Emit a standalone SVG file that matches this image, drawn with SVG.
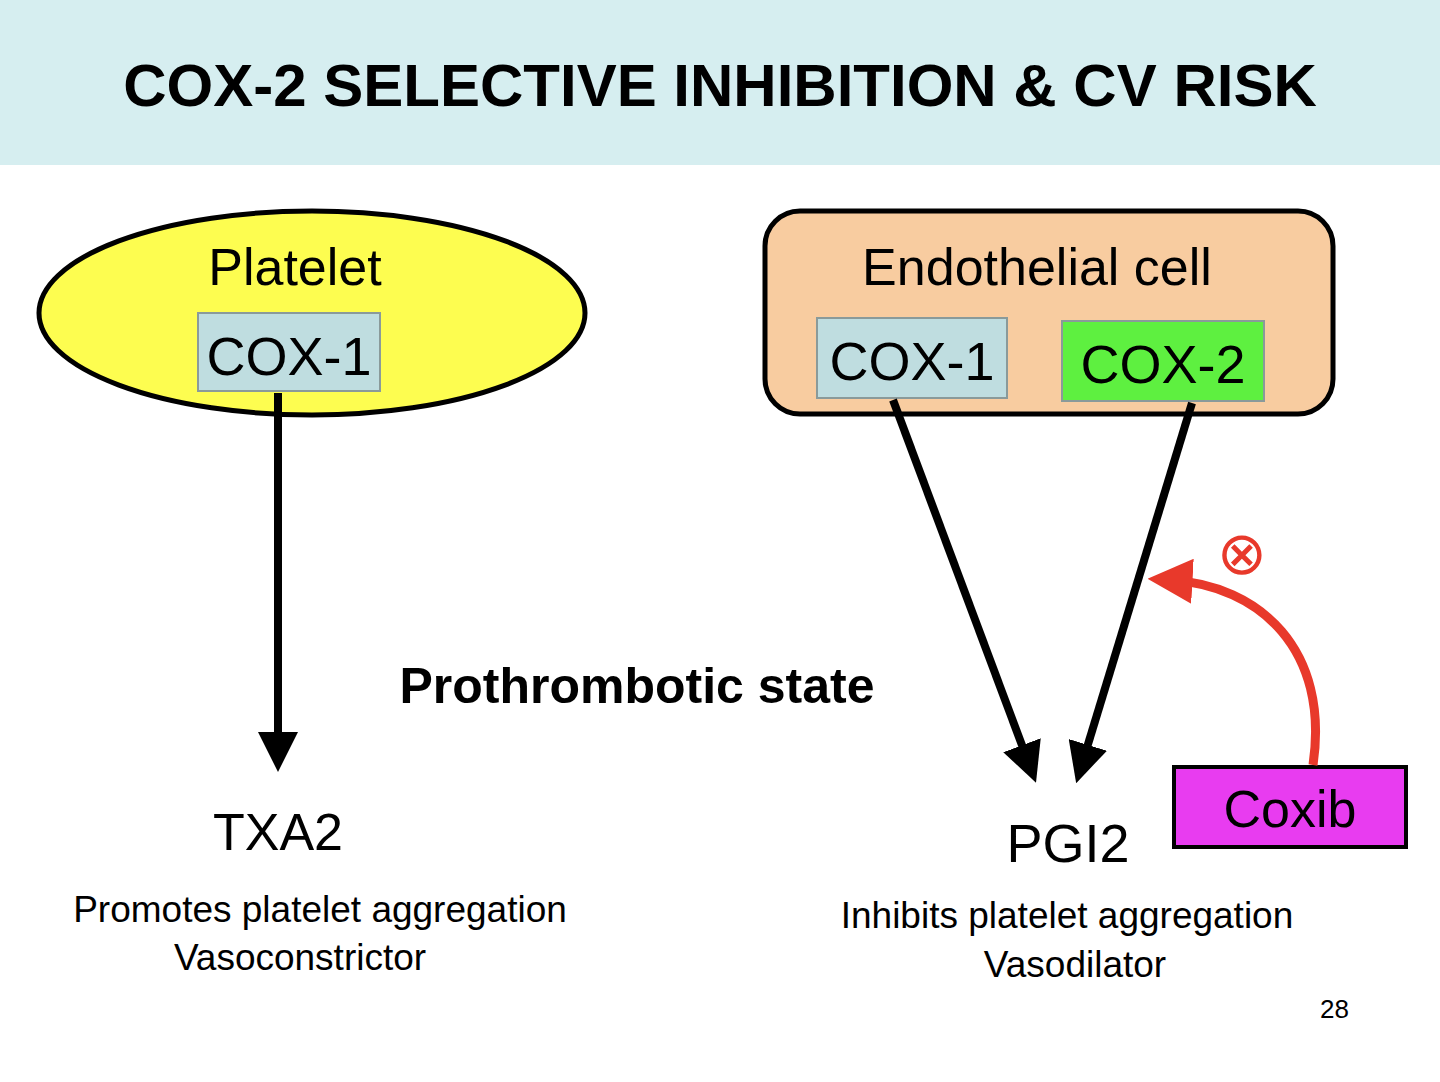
<svg xmlns="http://www.w3.org/2000/svg" width="1440" height="1082" viewBox="0 0 1440 1082">
<style>
text{font-family:"Liberation Sans",Arial,sans-serif;fill:#000}
.c{text-anchor:middle}
.box{stroke:#8a9a9a;stroke-width:2}
.arr{stroke:#000;stroke-width:8;fill:none}
</style>
<defs>
<marker id="ah" markerWidth="5" markerHeight="5" refX="2.5" refY="2.5" orient="auto" markerUnits="strokeWidth"><path d="M0,0L5,2.5L0,5z" fill="#000"/></marker>
<marker id="rh" markerWidth="5" markerHeight="5" refX="2.5" refY="2.5" orient="auto" markerUnits="strokeWidth"><path d="M0,0L5,2.5L0,5z" fill="#e8392b"/></marker>
</defs>
<rect width="1440" height="1082" fill="#fff"/>
<rect width="1440" height="165" fill="#d6eef0"/>
<text class="c" x="720" y="106" font-size="60" font-weight="bold">COX-2 SELECTIVE INHIBITION &amp; CV RISK</text>
<g id="platelet">
<ellipse cx="312" cy="313" rx="273" ry="102" fill="#fdfd50" stroke="#000" stroke-width="5"/>
<text class="c" x="295" y="285" font-size="52">Platelet</text>
<rect class="box" x="198" y="313" width="182" height="78" fill="#bfdde0"/>
<text class="c" x="289" y="375" font-size="54">COX-1</text>
</g>
<g id="endothelial">
<rect x="765" y="211" width="568" height="203" rx="35" fill="#f8cca0" stroke="#000" stroke-width="5"/>
<text class="c" x="1037" y="285" font-size="52">Endothelial cell</text>
<rect class="box" x="817" y="318" width="190" height="80" fill="#bfdde0"/>
<text class="c" x="912" y="380" font-size="54">COX-1</text>
<rect class="box" x="1062" y="321" width="202" height="80" fill="#5ef040"/>
<text class="c" x="1163" y="383" font-size="54">COX-2</text>
</g>
<g id="txa2">
<text class="c" x="278" y="850" font-size="52">TXA2</text>
<text class="c" x="320" y="922" font-size="37">Promotes platelet aggregation</text>
<text class="c" x="300" y="970" font-size="37">Vasoconstrictor</text>
</g>
<g id="pgi2">
<text class="c" x="1068" y="862" font-size="54">PGI2</text>
<text class="c" x="1067" y="928" font-size="37">Inhibits platelet aggregation</text>
<text class="c" x="1075" y="977" font-size="37">Vasodilator</text>
</g>
<g id="coxib">
<rect x="1174" y="767" width="232" height="80" fill="#e83cf0" stroke="#000" stroke-width="4"/>
<text class="c" x="1290" y="827" font-size="52">Coxib</text>
</g>
<text class="c" x="637" y="703" font-size="50" font-weight="bold">Prothrombotic state</text>
<text x="1320" y="1018" font-size="26">28</text>
<g id="connectors">
<path class="arr" d="M278,393V752" marker-end="url(#ah)"/>
<path class="arr" d="M893,400L1029,764" marker-end="url(#ah)"/>
<path class="arr" d="M1192,403L1082,764" marker-end="url(#ah)"/>
<path d="M1313,765C1330,650 1260,585 1170,580" stroke="#e8392b" stroke-width="9" fill="none" marker-end="url(#rh)"/>
<text class="c" x="1242" y="574" font-size="60" fill="#e8392b" style="font-family:'DejaVu Sans',sans-serif;fill:#e8392b">⊗</text>
</g>
</svg>
